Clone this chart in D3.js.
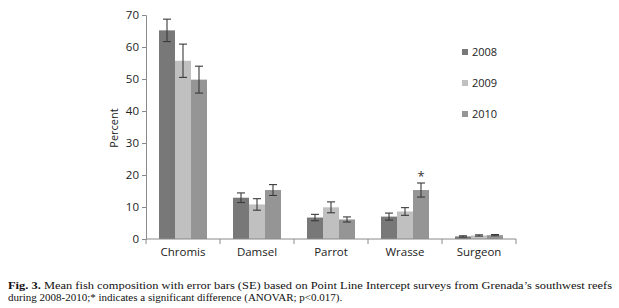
<!DOCTYPE html>
<html>
<head>
<meta charset="utf-8">
<script src="https://cdn.jsdelivr.net/npm/d3@7"></script>
<style>
  body { margin: 0; background: #fff; }
  svg { display: block; }
</style>
</head>
<body>
<div id="chart"></div>
<script>
// data
var categories = ["Chromis", "Damsel", "Parrot", "Wrasse", "Surgeon"];
var years = ["2008", "2009", "2010"];
var means = {
    "2008": [65.2, 12.9, 6.7, 7.0, 0.8],
    "2009": [55.7, 10.8, 9.9, 8.6, 1.1],
    "2010": [49.8, 15.3, 6.1, 15.3, 1.2]
};
var errors = {
    "2008": [3.5, 1.5, 1.0, 1.1, 0.2],
    "2009": [5.2, 1.8, 1.7, 1.2, 0.2],
    "2010": [4.2, 1.7, 0.8, 2.2, 0.2]
};
var yTicks = [0, 10, 20, 30, 40, 50, 60, 70];
var significant = [{ category: "Wrasse", year: "2010" }];
var colors = ["#787878", "#c0c0c0", "#959595"];

var W = 619, H = 308;
var svg = d3.select("#chart").append("svg")
    .attr("width", W)
    .attr("height", H);

var x0 = d3.scaleBand()
    .domain(categories)
    .range([146, 516])
    .paddingInner(0)
    .paddingOuter(0);

var x1 = d3.scaleBand()
    .domain(years)
    .range([13, x0.bandwidth() - 13]);

var y = d3.scaleLinear()
    .domain([0, 70])
    .range([239, 15]);

var color = d3.scaleOrdinal().domain(years).range(colors);

// bars
years.forEach(function (yr) {
    svg.append("g").selectAll("rect")
        .data(categories)
        .enter()
        .append("rect")
        .attr("x", d => x0(d) + x1(yr))
        .attr("y", (d, i) => y(means[yr][i]))
        .attr("width", x1.bandwidth())
        .attr("height", (d, i) => y(0) - y(means[yr][i]))
        .attr("fill", color(yr));
});

// error bars
years.forEach(function (yr) {
    var g = svg.append("g")
        .attr("stroke", "#3a3a3a")
        .attr("stroke-width", 1.1);
    categories.forEach(function (c, i) {
        var cx = x0(c) + x1(yr) + x1.bandwidth() / 2;
        var hi = y(means[yr][i] + errors[yr][i]);
        var lo = y(means[yr][i] - errors[yr][i]);
        g.append("line").attr("x1", cx).attr("x2", cx).attr("y1", hi).attr("y2", lo);
        g.append("line").attr("x1", cx - 4).attr("x2", cx + 4).attr("y1", hi).attr("y2", hi);
        g.append("line").attr("x1", cx - 4).attr("x2", cx + 4).attr("y1", lo).attr("y2", lo);
    });
});

// significance star
significant.forEach(function (s) {
    var i = categories.indexOf(s.category);
    svg.append("text")
        .attr("x", x0(s.category) + x1(s.year) + x1.bandwidth() / 2)
        .attr("y", y(means[s.year][i] + errors[s.year][i]) - 2)
        .attr("text-anchor", "middle")
        .style("font-family", "'Open Sans', sans-serif")
        .style("font-size", "13px")
        .attr("fill", "#333")
        .text("*");
});

// y axis
var yAxis = svg.append("g")
    .attr("transform", "translate(146,0)")
    .call(d3.axisLeft(y).tickValues(yTicks).tickSize(4).tickPadding(3));
yAxis.select(".domain").attr("stroke", "#8a8a8a");
yAxis.selectAll(".tick line").attr("stroke", "#8a8a8a");
yAxis.selectAll(".tick text")
    .style("font-family", "'Open Sans', sans-serif")
    .style("font-size", "11.5px")
    .attr("fill", "#222");

// x axis: ticks at category boundaries
svg.append("line")
    .attr("x1", 146).attr("x2", 516)
    .attr("y1", y(0)).attr("y2", y(0))
    .attr("stroke", "#8a8a8a");
svg.append("g").selectAll("line")
    .data(categories.concat(["end"]))
    .enter()
    .append("line")
    .attr("x1", (d, i) => i < categories.length ? x0(d) : x0.range()[1])
    .attr("x2", (d, i) => i < categories.length ? x0(d) : x0.range()[1])
    .attr("y1", y(0))
    .attr("y2", y(0) + 5)
    .attr("stroke", "#8a8a8a");
svg.append("g").selectAll("text")
    .data(categories)
    .enter()
    .append("text")
    .attr("x", d => x0(d) + x0.bandwidth() / 2)
    .attr("y", 256)
    .attr("text-anchor", "middle")
    .style("font-family", "'Open Sans', sans-serif")
    .style("font-size", "11.5px")
    .attr("fill", "#222")
    .text(d => d);

// axis label
svg.append("text")
    .attr("transform", "translate(118,128) rotate(-90)")
    .attr("text-anchor", "middle")
    .style("font-family", "'Open Sans', sans-serif")
    .style("font-size", "11px")
    .attr("fill", "#222")
    .text("Percent");

// legend
var legend = svg.append("g").selectAll("g")
    .data(years)
    .enter()
    .append("g")
    .attr("transform", (d, i) => "translate(462," + (52 + i * 31) + ")");
legend.append("rect")
    .attr("x", 0).attr("y", -3)
    .attr("width", 6).attr("height", 6)
    .attr("fill", d => color(d));
legend.append("text")
    .attr("x", 10).attr("y", 4)
    .style("font-family", "'Open Sans', sans-serif")
    .style("font-size", "11px")
    .attr("fill", "#222")
    .text(d => d);

// caption
var cap = svg.append("text")
    .attr("x", 8).attr("y", 289)
    .style("font-family", "'Liberation Serif', 'Times New Roman', serif")
    .style("font-size", "11px")
    .attr("fill", "#111")
    .attr("textLength", 604)
    .attr("lengthAdjust", "spacingAndGlyphs");
cap.append("tspan").style("font-weight", "bold").text("Fig. 3.");
cap.append("tspan").text(" Mean fish composition with error bars (SE) based on Point Line Intercept surveys from Grenada\u2019s southwest reefs");
svg.append("text")
    .attr("x", 8).attr("y", 301)
    .style("font-family", "'Liberation Serif', 'Times New Roman', serif")
    .style("font-size", "11px")
    .attr("fill", "#111")
    .text("during 2008-2010;* indicates a significant difference (ANOVAR; p<0.017).");
</script>
</body>
</html>
